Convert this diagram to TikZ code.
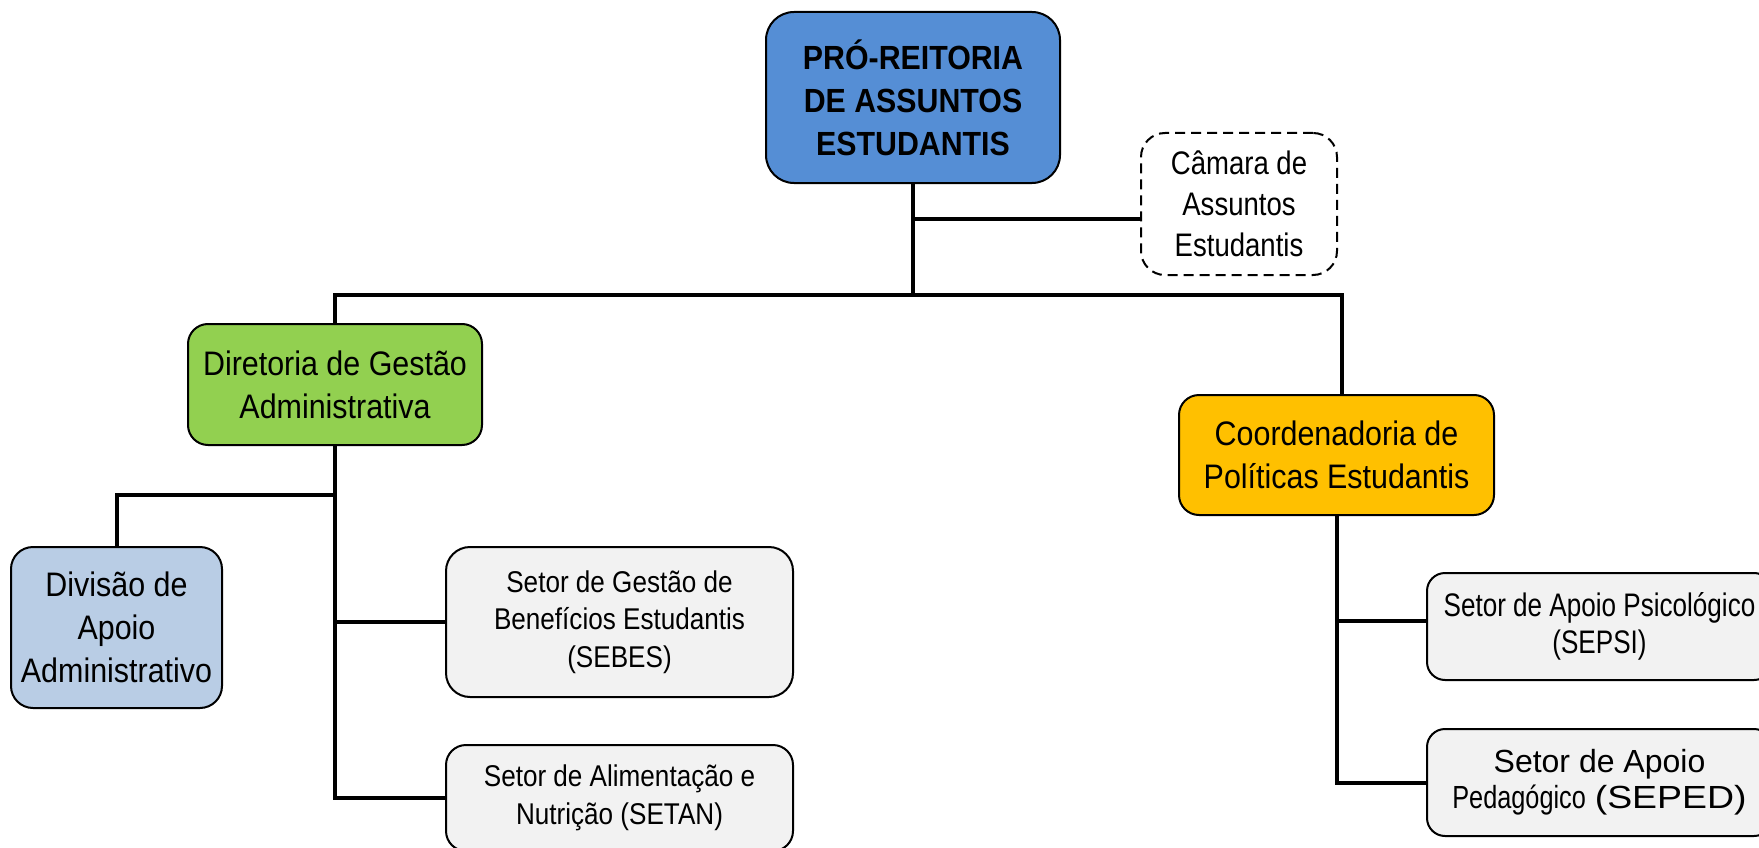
\documentclass[tikz,border=0pt]{standalone}
\usepackage{fontspec}
\setmainfont{Liberation Sans}
\newfontfamily\fontTopX[FakeStretch=0.905]{Liberation Sans}
\newfontfamily\fontMidX[FakeStretch=0.895]{Liberation Sans}
\newfontfamily\fontCamX[FakeStretch=0.845]{Liberation Sans}
\newfontfamily\fontSetX[FakeStretch=0.87]{Liberation Sans}
\newfontfamily\fontPsiX[FakeStretch=0.8]{Liberation Sans}
\newfontfamily\fontPedX[FakeStretch=0.79]{Liberation Sans}
\newfontfamily\fontWideX[FakeStretch=1.17]{Liberation Sans}
\definecolor{cTop}{RGB}{85,142,213}
\definecolor{cDir}{RGB}{146,208,80}
\definecolor{cCoo}{RGB}{255,192,0}
\definecolor{cDiv}{RGB}{185,205,229}
\definecolor{cSet}{RGB}{242,242,242}
\begin{document}
\begin{tikzpicture}[x=1pt,y=-1pt,
  box/.style={draw=black, line width=2pt, align=center, inner sep=0pt, text=black},
  conn/.style={draw=black, line width=4pt, line join=miter},
  dashbox/.style={box, dash pattern=on 10pt off 6pt}
]
\useasboundingbox (0,0) rectangle (1759,848);

\node[box, fill=cTop, rounded corners=28pt, minimum width=294pt, minimum height=171pt,
  font=\fontTopX\bfseries\fontsize{33.5pt}{43pt}\selectfont] (top) at (913,97.5)
  {PRÓ-REITORIA\\DE ASSUNTOS\\ESTUDANTIS};

\node[dashbox, fill=white, rounded corners=24pt, minimum width=196pt, minimum height=142pt,
  font=\fontCamX\fontsize{32.6pt}{41pt}\selectfont] (cam) at (1239,204)
  {Câmara de\\Assuntos\\Estudantis};

\node[box, fill=cDir, rounded corners=20pt, minimum width=294pt, minimum height=121pt,
  font=\fontMidX\fontsize{34pt}{43pt}\selectfont] (dir) at (335,384.5)
  {Diretoria de Gestão\\Administrativa};

\node[box, fill=cCoo, rounded corners=20pt, minimum width=315pt, minimum height=120pt,
  font=\fontMidX\fontsize{34pt}{43pt}\selectfont] (coo) at (1336.5,455)
  {Coordenadoria de\\Políticas Estudantis};

\node[box, fill=cDiv, rounded corners=22pt, minimum width=211pt, minimum height=161pt,
  font=\fontMidX\fontsize{34pt}{43pt}\selectfont] (div) at (116.5,627.5)
  {Divisão de\\Apoio\\Administrativo};

\node[box, fill=cSet, rounded corners=24pt, minimum width=347pt, minimum height=150pt,
  font=\fontSetX\fontsize{30pt}{37.5pt}\selectfont] (sebes) at (619.5,622)
  {Setor de Gestão de\\Benefícios Estudantis\\(SEBES)};

\node[box, fill=cSet, rounded corners=20pt, minimum width=347pt, minimum height=106pt,
  font=\fontSetX\fontsize{30pt}{37.5pt}\selectfont] (setan) at (619.5,798)
  {Setor de Alimentação e\\Nutrição (SETAN)};

\node[box, fill=cSet, rounded corners=18pt, minimum width=345pt, minimum height=107pt,
  font=\fontPsiX\fontsize{32.6pt}{37pt}\selectfont] (sepsi) at (1599.5,626.5)
  {Setor de Apoio Psicológico\\(SEPSI)};

\node[box, fill=cSet, rounded corners=18pt, minimum width=345pt, minimum height=107pt,
  font=\fontsize{32pt}{36pt}\selectfont] (seped) at (1599.5,782.5)
  {Setor de Apoio\\{\fontPedX Pedagógico} {\fontWideX (SEPED)}};

\coordinate (busL) at (337,295);
\coordinate (camj) at (913,219);
\coordinate (divj) at (335,495);
\coordinate (psij) at (1337,621);

% trunk and bus
\draw[conn] (top.south) -- (top.south |- busL);
\draw[conn] (camj) -- (camj -| cam.west);
\draw[conn] (dir.north) -- (dir.north |- busL) -- ([xshift=5pt]coo.north |- busL) -- ([xshift=5pt]coo.north);
% Diretoria branch
\draw[conn] (dir.south) -- (dir.south |- setan.west) -- (setan.west);
\draw[conn] (dir.south |- sebes.west) -- (sebes.west);
\draw[conn] (divj) -| (div.north);
% Coordenadoria branch
\draw[conn] (coo.south) -- (coo.south |- seped.west) -- (seped.west);
\draw[conn] (psij) -- (psij -| sepsi.west);
\end{tikzpicture}
\end{document}
